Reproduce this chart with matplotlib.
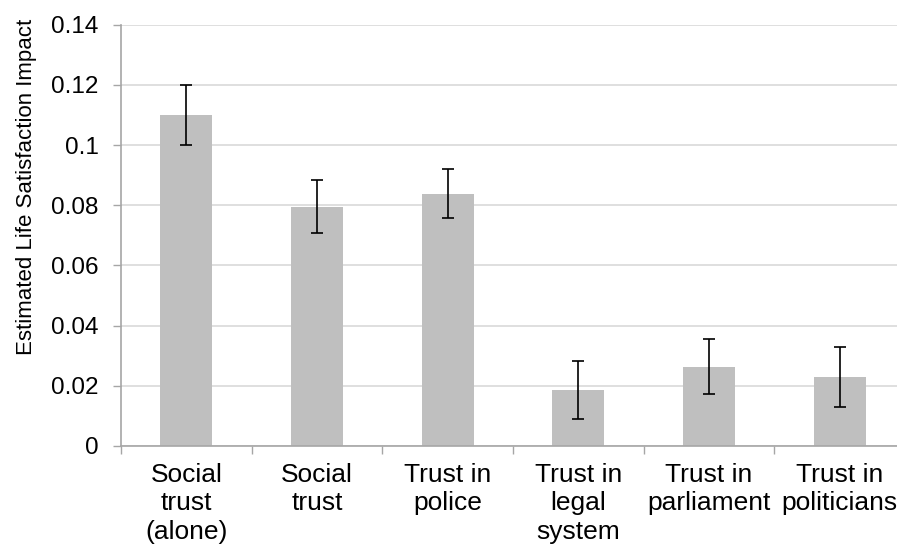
import matplotlib.pyplot as plt
import numpy as np

plt.rcParams['font.family'] = ['Liberation Sans', 'DejaVu Sans']

categories = ["Social\ntrust\n(alone)", "Social\ntrust", "Trust in\npolice",
              "Trust in\nlegal\nsystem", "Trust in\nparliament", "Trust in\npoliticians"]
impact = [0.110, 0.0795, 0.0838, 0.0186, 0.0263, 0.0229]
err = [0.0100, 0.0089, 0.0081, 0.0095, 0.0091, 0.0100]

fig = plt.figure(figsize=(8.97, 5.5), dpi=100)
ax = fig.add_axes([121 / 897, 104 / 550, 784 / 897, 421.4 / 550])

x = np.arange(len(categories))
ax.bar(x, impact, width=0.4, color="#BFBFBF", zorder=2)
ax.errorbar(x, impact, yerr=err, fmt="none", ecolor="black", elinewidth=1.2,
            capsize=4.3, capthick=1.2, zorder=3)

ax.set_xlim(-0.5, len(categories) - 0.5)
ax.set_ylim(0, 0.14)
ax.set_yticks(np.arange(0, 0.141, 0.02))
ax.set_yticklabels(["0", "0.02", "0.04", "0.06", "0.08", "0.1", "0.12", "0.14"])
ax.grid(axis="y", color="#D9D9D9", linewidth=1.2, zorder=0)

ax.set_xticks(x)
ax.set_xticklabels(categories, linespacing=1.24)
ax.set_xticks(np.arange(-0.5, len(categories)), minor=True)
ax.tick_params(axis="x", which="major", length=0, pad=12, labelsize=19)
ax.tick_params(axis="x", which="minor", length=6, color="#A6A6A6", width=1)
ax.tick_params(axis="y", length=6, color="#A6A6A6", width=1, labelsize=17.5, pad=10)

for s in ["top", "right"]:
    ax.spines[s].set_visible(False)
for s in ["left", "bottom"]:
    ax.spines[s].set_color("#A6A6A6")
    ax.spines[s].set_linewidth(1.2)

ax.set_ylabel("Estimated Life Satisfaction Impact", fontsize=16)
ax.yaxis.set_label_coords(-84 / 784, 0.615)

fig.savefig("out.png", dpi=100)
